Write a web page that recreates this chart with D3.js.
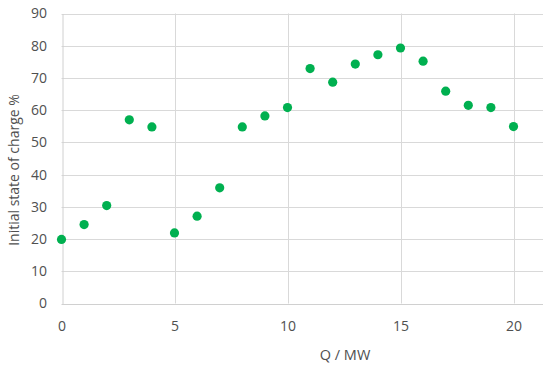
<!DOCTYPE html>
<html>
<head>
<meta charset="utf-8">
<script src="https://cdn.jsdelivr.net/npm/d3@7"></script>
<style>
  html, body { margin: 0; padding: 0; background: #fff; }
  svg { display: block; }
  text { font-family: "Open Sans", "Liberation Sans", sans-serif; fill: #505050; }
</style>
</head>
<body>
<svg id="chart" width="543" height="365"></svg>
<script>
// Heat demand Q (MW) vs initial state of charge (%)
const qValues = [0, 1, 2, 3, 4, 5, 6, 7, 8, 9, 10, 11, 12, 13, 14, 15, 16, 17, 18, 19, 20];
const socValues = [19.9, 24.5, 30.4, 57.0, 54.8, 21.9, 27.1, 35.9, 54.8, 58.2, 60.8,
                   72.9, 68.7, 74.3, 77.2, 79.3, 75.2, 65.9, 61.5, 60.8, 54.9];
const xTicks = [0, 5, 10, 15, 20];
const xGrid = [5, 10, 15, 20, 25];
const yTicks = [0, 10, 20, 30, 40, 50, 60, 70, 80, 90];
const xTitle = "Q / MW";
const yTitle = "Initial state of charge %";

const svg = d3.select("#chart");
const W = 543, H = 365;

const x = d3.scaleLinear().domain([0, 25]).range([61.5, 626.5]);
const y = d3.scaleLinear().domain([0, 90]).range([303.5, 13.5]);

// horizontal gridlines
svg.append("g")
  .selectAll("line").data(yTicks.filter(d => d > 0)).join("line")
  .attr("x1", x(0)).attr("x2", W)
  .attr("y1", d => Math.round(y(d)) + 0.5).attr("y2", d => Math.round(y(d)) + 0.5)
  .attr("stroke", "#d9d9d9").attr("stroke-width", 1);

// vertical gridlines
svg.append("g")
  .selectAll("line").data(xGrid).join("line")
  .attr("x1", d => Math.round(x(d)) + 0.5).attr("x2", d => Math.round(x(d)) + 0.5)
  .attr("y1", y(90)).attr("y2", y(0))
  .attr("stroke", "#d9d9d9").attr("stroke-width", 1);

// axes
const xAxis = d3.axisBottom(x).tickValues(xTicks).tickSize(0);
const yAxis = d3.axisLeft(y).tickValues(yTicks).tickSize(0).tickPadding(15.5);

const gx = svg.append("g").attr("transform", `translate(0,${Math.round(y(0)) + 0.5})`).call(xAxis);
gx.select(".domain").attr("stroke", "#d0d0d0").attr("d", `M${x(0)},0H${W}`);
gx.selectAll("text").attr("y", 26.5).attr("dy", null)
  .style("font-size", "14px").attr("fill", "#505050");

const gy = svg.append("g").attr("transform", `translate(${Math.round(x(0)) + 0.5},0)`).call(yAxis);
gy.select(".domain").attr("stroke", "#d0d0d0");
gy.selectAll("text").style("font-size", "14px").attr("fill", "#505050");

// axis titles
svg.append("text")
  .attr("x", 345).attr("y", 360)
  .attr("text-anchor", "middle")
  .style("font-size", "14.5px")
  .text(xTitle);

svg.append("text")
  .attr("transform", `translate(18.5,170) rotate(-90)`)
  .attr("text-anchor", "middle")
  .style("font-size", "14px")
  .text(yTitle);

// data points
svg.append("g")
  .selectAll("circle").data(qValues.map((q, i) => [q, socValues[i]])).join("circle")
  .attr("cx", d => x(d[0]))
  .attr("cy", d => y(d[1]))
  .attr("r", 4.6)
  .attr("fill", "#00b050");
</script>
</body>
</html>
